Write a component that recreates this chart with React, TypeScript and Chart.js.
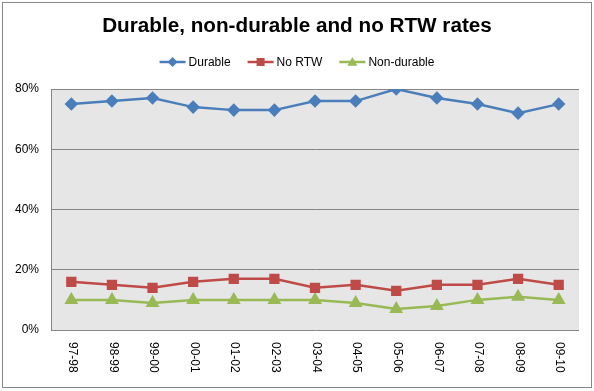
import React, { useEffect, useRef } from "react";
import { Chart, registerables } from "chart.js";

Chart.register(...registerables);

const categories = ["97-98", "98-99", "99-00", "00-01", "01-02", "02-03", "03-04", "04-05", "05-06", "06-07", "07-08", "08-09", "09-10"];
const durable = [75, 76, 77, 74, 73, 73, 76, 76, 80, 77, 75, 72, 75];
const noRTW = [16, 15, 14, 16, 17, 17, 14, 15, 13, 15, 15, 17, 15];
const nonDurable = [10, 10, 9, 10, 10, 10, 10, 9, 7, 8, 10, 11, 10];
const yTicks = [0, 20, 40, 60, 80];

const FONT = "'Liberation Sans', Arial, sans-serif";
const GRID = "#868686";

function drawMarker(ctx: CanvasRenderingContext2D, style: string, x: number, y: number, r: number, color: string) {
  ctx.save();
  ctx.fillStyle = color;
  ctx.beginPath();
  if (style === "rectRot") {
    ctx.moveTo(x, y - r);
    ctx.lineTo(x + r, y);
    ctx.lineTo(x, y + r);
    ctx.lineTo(x - r, y);
  } else if (style === "rect") {
    ctx.rect(x - r * 0.8, y - r * 0.8, r * 1.6, r * 1.6);
  } else {
    ctx.moveTo(x, y - r);
    ctx.lineTo(x + r, y + r * 0.75);
    ctx.lineTo(x - r, y + r * 0.75);
  }
  ctx.closePath();
  ctx.fill();
  ctx.restore();
}

const customPlugin = {
  id: "custom",
  beforeDraw(chart: any) {
    const { ctx, chartArea } = chart;
    ctx.save();
    ctx.fillStyle = "#ffffff";
    ctx.fillRect(0, 0, chart.width, chart.height);
    ctx.strokeStyle = "#878787";
    ctx.lineWidth = 1;
    ctx.strokeRect(2.5, 2.5, 589, 385);
    ctx.fillStyle = "#e6e6e6";
    ctx.fillRect(chartArea.left, chartArea.top, chartArea.right - chartArea.left, chartArea.bottom - chartArea.top);
    ctx.restore();
  },
  afterDraw(chart: any) {
    const { ctx } = chart;
    const xs = chart.scales.x;
    ctx.save();
    ctx.fillStyle = "#000";
    ctx.font = `12px ${FONT}`;
    ctx.textAlign = "left";
    ctx.textBaseline = "middle";
    categories.forEach((lab, i) => {
      const px = xs.getPixelForTick(i);
      ctx.save();
      ctx.translate(px + 1, 342);
      ctx.rotate(Math.PI / 2);
      ctx.fillText(lab, 0, 0);
      ctx.restore();
    });
    ctx.restore();

    ctx.save();
    ctx.font = `12px ${FONT}`;
    ctx.textBaseline = "middle";
    ctx.textAlign = "left";
    const lineLen = 26;
    const gapText = 3;
    const gapItem = 17;
    const items = chart.data.datasets.map((d: any) => ({
      label: d.label,
      color: d.borderColor,
      style: d.pointStyle,
      w: lineLen + gapText + ctx.measureText(d.label).width,
    }));
    const total = items.reduce((s: number, it: any) => s + it.w, 0) + gapItem * (items.length - 1);
    let x = 297 - total / 2;
    const y = 62;
    items.forEach((it: any) => {
      ctx.strokeStyle = it.color;
      ctx.lineWidth = 2.5;
      ctx.beginPath();
      ctx.moveTo(x, y);
      ctx.lineTo(x + lineLen, y);
      ctx.stroke();
      drawMarker(ctx, it.style, x + lineLen / 2, y, 5, it.color);
      ctx.fillStyle = "#000";
      ctx.fillText(it.label, x + lineLen + gapText, y + 1);
      x += it.w + gapItem;
    });
    ctx.restore();
  },
};

export default function App() {
  const ref = useRef<HTMLCanvasElement>(null);
  useEffect(() => {
    if (!ref.current) return;
    const chart = new Chart(ref.current, {
      type: "line",
      data: {
        labels: categories,
        datasets: [
          { label: "Durable", data: durable, borderColor: "#4A7EBB", backgroundColor: "#4A7EBB", pointStyle: "rectRot", pointRadius: 5, borderWidth: 2.5 },
          { label: "No RTW", data: noRTW, borderColor: "#BE4B48", backgroundColor: "#BE4B48", pointStyle: "rect", pointRadius: 5.5, borderWidth: 2.5 },
          { label: "Non-durable", data: nonDurable, borderColor: "#98B954", backgroundColor: "#98B954", pointStyle: "triangle", pointRadius: 5.5, borderWidth: 2.5 },
        ],
      },
      options: {
        responsive: true,
        maintainAspectRatio: false,
        animation: false,
        layout: { padding: { left: 15, right: 15, top: 0, bottom: 0 } },
        plugins: {
          legend: { display: false },
          tooltip: { enabled: false },
          title: {
            display: true,
            text: "Durable, non-durable and no RTW rates",
            color: "#000",
            font: { family: FONT, size: 20.7, weight: "bold", lineHeight: 1.2 },
            padding: { top: 14, bottom: 50.2 },
          },
        },
        scales: {
          x: {
            offset: true,
            grid: { display: false },
            border: { display: false },
            ticks: { display: false },
            afterFit: (s: any) => { s.height = 61; },
          },
          y: {
            min: 0,
            max: 80,
            afterBuildTicks: (s: any) => { s.ticks = yTicks.map((v) => ({ value: v })); },
            grid: { color: GRID, drawTicks: false, lineWidth: 1 },
            border: { display: true, color: GRID },
            ticks: {
              padding: 12,
              color: "#000",
              font: { family: FONT, size: 12 },
              callback: (v: any) => v + "%",
            },
            afterFit: (s: any) => { s.width = 36; },
          },
        },
      },
      plugins: [customPlugin],
    });
    return () => chart.destroy();
  }, []);
  return (
    <div style={{ position: "absolute", left: 0, top: 0, width: 594, height: 391 }}>
      <canvas ref={ref} />
    </div>
  );
}
